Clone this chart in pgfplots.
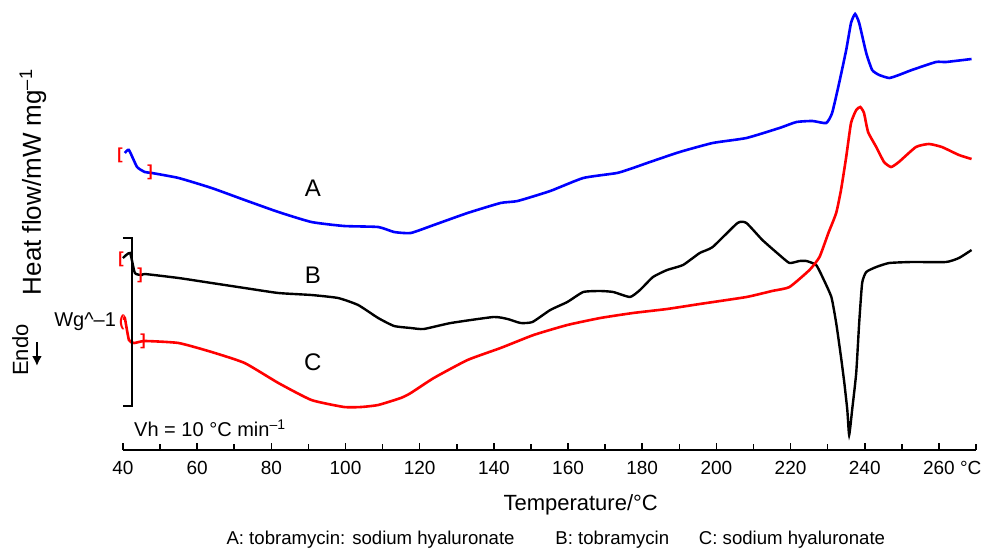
\documentclass[border=0pt]{standalone}
\usepackage{pgfplots}
\pgfplotsset{compat=1.18}
\usetikzlibrary{arrows.meta}
\usepackage{fontspec}
\setmainfont{Liberation Sans}
\begin{document}
\begin{tikzpicture}
\begin{axis}[
  at={(0,0)}, anchor=south west,
  scale only axis, width=426.5pt, height=225pt,
  xmin=40, xmax=270, ymin=-2, ymax=448,
  clip=false,
  axis x line=bottom, axis line style={-, line width=0.8pt},
  axis y line=none,
  xtick={40,60,...,260},
  xticklabels={40,60,80,100,120,140,160,180,200,220,240,260\rlap{~°C}},
  minor xtick={50,70,...,270},
  tick align=inside,
  major tick length=3.5pt, minor tick length=3pt,
  tick style={line width=0.8pt, black},
  xticklabel style={font=\fontsize{9.5}{10}\selectfont, yshift=-2pt},
]
\addplot[blue, line width=1.3pt, smooth, tension=0.3] coordinates {
(40.5,295)(41.6,298)(43.8,281)(45.9,276)(47.8,275)(55.0,270)(63.9,260)(72.8,248)
(81.9,236)(90.8,226)(99.6,222)(108.8,221)(113.1,216)(117.6,215)(123.8,223)(132.9,235)
(141.8,245)(146.4,247)(155.2,257)(164.1,270)(173.2,275)(177.5,280)(182.1,286)(190.1,296)
(199.0,305)(208.1,310)(217.0,320)(221.6,326)(225.9,327)(229.6,325)(231.2,335)(233.1,365)
(235.0,398)(236.3,425)(237.4,434)(238.5,425)(240.4,395)(242.0,378)(243.9,373)(246.6,370)
(249.2,373)(252.7,378)(259.2,386)(261.9,386)(268.8,389)};
\addplot[black, line width=1.2pt, smooth, tension=0.3] coordinates {
(40.0,190)(41.9,195)(43.2,175)(45.1,173)(45.9,174)(55.0,170)(63.9,165)(72.8,160)
(81.9,155)(90.8,153)(98.0,150)(103.4,143)(108.8,130)(113.1,122)(117.6,120)(121.1,119)
(128.4,125)(139.9,131)(143.7,129)(147.2,125)(150.4,126)(155.2,138)(159.8,146)(164.1,156)
(168.7,157)(172.2,156)(176.7,151)(179.4,158)(182.9,171)(186.7,178)(191.0,183)(195.5,195)
(199.0,201)(205.7,225)(208.1,225)(212.4,208)(217.0,193)(219.7,185)(222.4,187)(224.3,187)
(226.9,183)(228.6,171)(231.0,151)(232.3,125)(233.6,91)(234.5,65)(235.3,38)(235.8,13)
(236.6,38)(237.7,75)(238.5,125)(239.3,165)(240.4,176)(243.1,181)(246.6,185)(252.7,186)
(261.9,186)(265.4,190)(268.8,198)};
\addplot[red, line width=1.3pt, smooth, tension=0.3] coordinates {
(40.3,128)(40.5,130)(41.6,108)(43.0,105)(45.9,107)(55.0,105)(63.9,96)(72.8,85)
(81.9,65)(90.8,48)(99.6,41)(104.2,41)(108.8,43)(114.9,50)(117.6,55)(123.8,70)
(132.9,88)(141.8,100)(150.7,113)(159.8,123)(168.7,130)(177.5,135)(186.7,139)(195.5,144)
(208.1,151)(215.0,157)(219.7,161)(225.1,178)(227.8,191)(230.2,215)(232.3,235)(233.6,258)
(235.0,291)(236.3,325)(237.7,338)(238.8,341)(239.8,335)(240.9,316)(243.1,301)(245.2,286)
(247.1,281)(249.2,286)(253.8,301)(257.3,304)(260.8,301)(265.4,293)(268.8,289)};
% scale bar
\draw[black, line width=1.1pt] (axis cs:40,210) -- (axis cs:42.4,210) -- (axis cs:42.4,42) -- (axis cs:40,42);
% red range brackets
\begin{scope}[every node/.style={text=red, font=\fontsize{8}{8}\selectfont\bfseries, inner sep=0pt}]
\node at (axis cs:39.2,293) {[};
\node at (axis cs:47.3,276) {]};
\node at (axis cs:39.5,189) {[};
\node at (axis cs:44.6,173) {]};
\node at (axis cs:39.7,126) {(};
\node at (axis cs:45.4,107) {]};
\end{scope}
% curve labels
\node[font=\fontsize{12}{12}\selectfont] at (axis cs:91.2,260) {A};
\node[font=\fontsize{12}{12}\selectfont] at (axis cs:91.2,173) {B};
\node[font=\fontsize{12}{12}\selectfont] at (axis cs:91.2,86) {C};
\node[font=\fontsize{10}{10}\selectfont] at (axis cs:63.5,20) {Vh = 10 °C min\textsuperscript{–1}};
\node[font=\fontsize{10}{10}\selectfont] at (axis cs:29.8,126) {Wg\^{}–1};
\node[font=\fontsize{11}{11}\selectfont, rotate=90] at (axis cs:12.3,98) {Endo};
\draw[-{Latex[length=5pt,width=5pt]}, line width=1.3pt] (axis cs:16.8,106) -- (axis cs:16.8,82);
\node[font=\fontsize{13}{13}\selectfont, rotate=90] at (axis cs:15.7,266) {Heat flow/mW mg\textsuperscript{–1}};
\node[font=\fontsize{11}{11}\selectfont] at (axis cs:163.4,-57) {Temperature/°C};
\node[font=\fontsize{9.3}{9.3}\selectfont] at (axis cs:156.7,-92) {A: tobramycin: sodium hyaluronate\hspace{2.2em}B: tobramycin\hspace{1.6em}C: sodium hyaluronate};
\end{axis}
\pgfresetboundingbox
\path (-61.5pt,-48.5pt) rectangle (430.5pt,225pt);
\end{tikzpicture}
\end{document}
